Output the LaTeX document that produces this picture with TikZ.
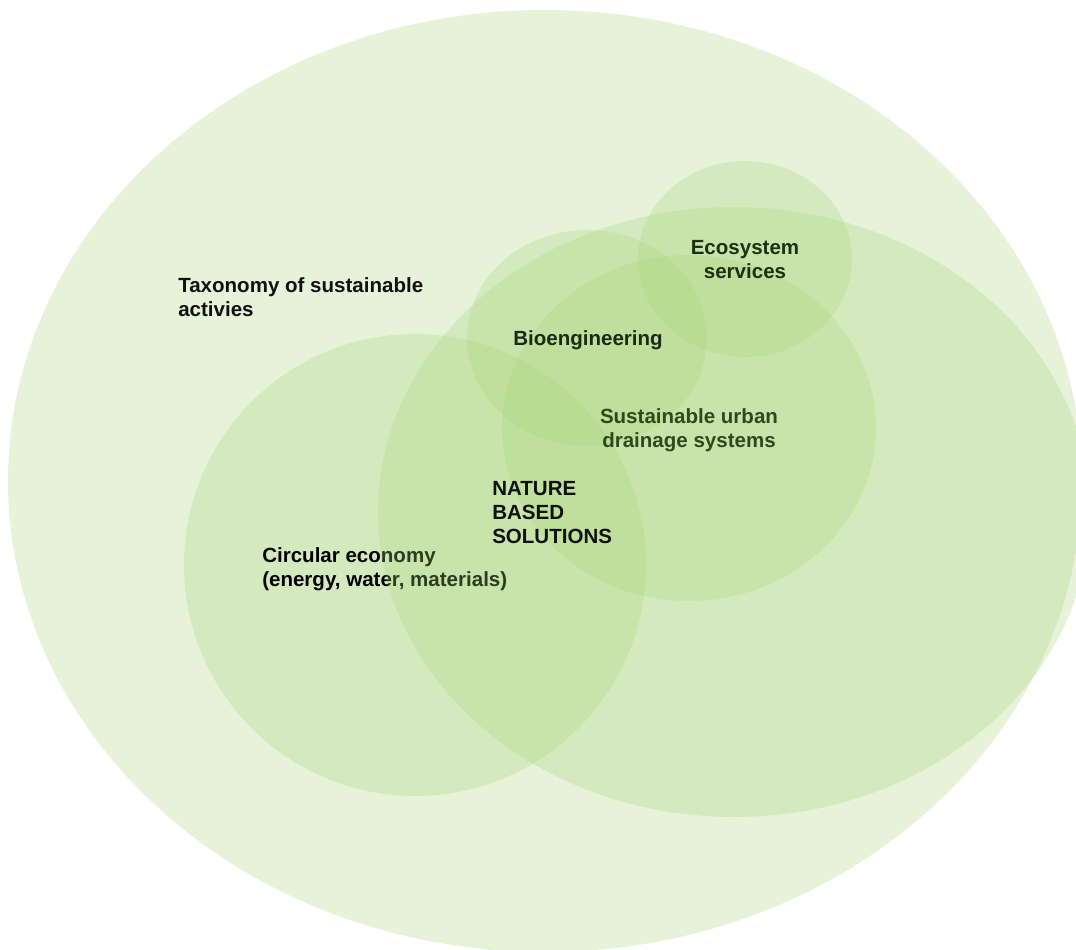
\documentclass[tikz,border=0pt]{standalone}
\usepackage{fontspec}
\setmainfont{Liberation Sans}
\definecolor{layer}{RGB}{166,212,119}
\definecolor{taxtext}{RGB}{17,17,17}
\definecolor{sudstext}{RGB}{46,74,28}
\definecolor{ecotext}{RGB}{30,48,16}
\definecolor{biotext}{RGB}{28,42,20}
\begin{document}
\begin{tikzpicture}[x=0.75pt,y=-0.75pt,
  blob/.style={fill=layer,fill opacity=0.28},
  lbl/.style={font=\fontsize{15.4pt}{18pt}\selectfont\bfseries,inner sep=0pt,text opacity=1}]
\useasboundingbox (0,0) rectangle (1076,950);
\clip (0,0) rectangle (1076,950);
% outer taxonomy ellipse
\fill[blob] (545,481) ellipse [x radius=402.75pt, y radius=353.25pt];
\node[lbl,text=taxtext,anchor=base west,align=left] (tax) at (178,316) {Taxonomy of sustainable\\activies};
% circular economy
\fill[blob] (415,565) circle [radius=173.25pt];
\node[lbl,text=black,anchor=base west,align=left] (ce) at (262,586) {Circular economy\\(energy, water, materials)};
% nature based solutions
\fill[blob] (734,512) ellipse [x radius=267pt, y radius=228.75pt];
% SUDS
\fill[blob] (689,428) ellipse [x radius=140.25pt, y radius=129.75pt];
% bioengineering
\fill[blob] (587,338) ellipse [x radius=90pt, y radius=81pt];
% ecosystem services
\fill[blob] (745,259) ellipse [x radius=80.25pt, y radius=73.5pt];
\node[lbl,text=ecotext,anchor=base,align=center] (eco) at (745,278) {Ecosystem\\services};
\node[lbl,text=biotext,anchor=base west] (bio) at (513,345) {Bioengineering};
\node[lbl,text=sudstext,anchor=base,align=center] (suds) at (689,447) {Sustainable urban\\drainage systems};
\node[lbl,text=taxtext,anchor=base west,align=left] (nbs) at (492,543) {NATURE\\BASED\\SOLUTIONS};
\end{tikzpicture}
\end{document}
